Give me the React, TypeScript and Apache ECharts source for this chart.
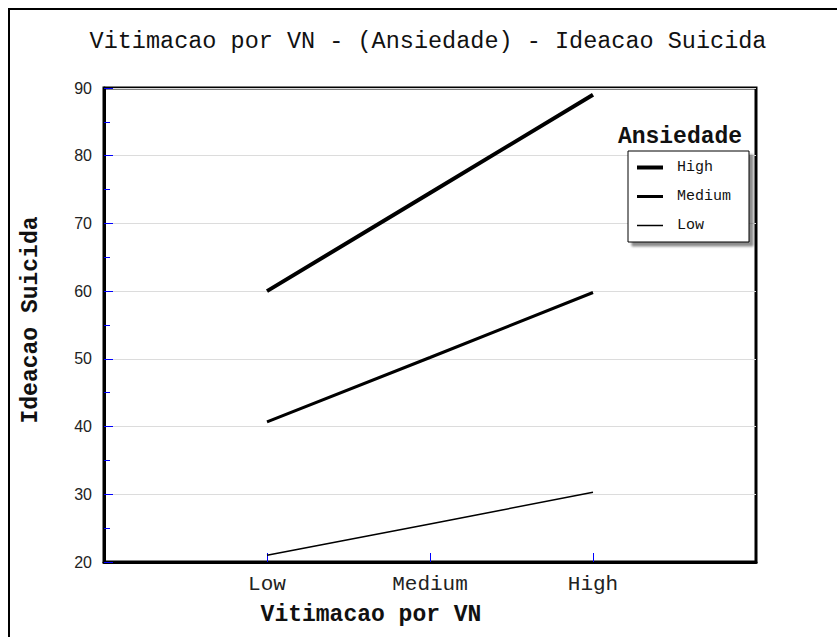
import React, { useEffect, useRef } from "react";
import * as echarts from "echarts";

const chartTitle = "Vitimacao por VN - (Ansiedade) - Ideacao Suicida";
const xTitle = "Vitimacao por VN";
const yTitle = "Ideacao Suicida";
const legendTitle = "Ansiedade";
const categories = ["Low", "Medium", "High"];
const seriesNames = ["High", "Medium", "Low"];
const highValues = [60, 74.5, 89];
const mediumValues = [40.7, 50.2, 59.8];
const lowValues = [21, 25.6, 30.3];
const lineWidths = [4, 3, 1.5];
const yMin = 20;
const yMax = 90;
const yStep = 10;

const MONO = "'Liberation Mono', 'DejaVu Sans Mono', monospace";
const SANS = "'Liberation Sans', Arial, sans-serif";

export default function App() {
  const ref = useRef<HTMLDivElement>(null);
  useEffect(() => {
    if (!ref.current) return;
    const chart = echarts.init(ref.current, null, { renderer: "svg" });
    const xData = ["", ...categories, ""];
    const pad = (v: number[]) => ["-", ...v, "-"];
    const allValues = [highValues, mediumValues, lowValues];
    chart.setOption({
      animation: false,
      backgroundColor: "#fff",
      grid: {
        left: 104,
        top: 88,
        right: 81,
        bottom: 75,
        show: true,
        borderColor: "#000",
        borderWidth: 3,
        backgroundColor: "transparent",
      },
      xAxis: {
        type: "category",
        data: xData,
        boundaryGap: false,
        axisLine: { show: true, lineStyle: { color: "#000", width: 3 } },
        axisTick: {
          show: true,
          inside: true,
          length: 9,
          interval: (i: number) => i >= 1 && i <= categories.length,
          lineStyle: { color: "#0000ff", width: 1 },
        },
        axisLabel: {
          interval: 0,
          margin: 12,
          fontFamily: MONO,
          fontSize: 21,
          color: "#222",
        },
        splitLine: { show: false },
      },
      yAxis: {
        type: "value",
        min: yMin,
        max: yMax,
        interval: yStep,
        axisLine: { show: true, lineStyle: { color: "#000", width: 3 } },
        axisTick: {
          show: true,
          inside: true,
          length: 9,
          lineStyle: { color: "#0000ff", width: 1 },
        },
        minorTick: {
          show: true,
          splitNumber: 2,
          length: 6,
          lineStyle: { color: "#0000ff", width: 1 },
        },
        axisLabel: {
          margin: 12,
          fontFamily: SANS,
          fontSize: 16,
          color: "#222",
        },
        splitLine: { show: true, lineStyle: { color: "#dcdcdc", width: 1 } },
      },
      legend: {
        orient: "vertical",
        left: 628,
        top: 151,
        padding: [9, 18, 9, 7],
        itemWidth: 26,
        itemHeight: 14,
        itemGap: 14,
        selectedMode: false,
        backgroundColor: "#fff",
        borderColor: "#000",
        borderWidth: 1,
        shadowColor: "rgba(0,0,0,0.45)",
        shadowOffsetX: 4,
        shadowOffsetY: 4,
        shadowBlur: 2,
        lineStyle: { width: "inherit", color: "#000" },
        itemStyle: {
          color: "rgba(0,0,0,0)",
          borderColor: "rgba(0,0,0,0)",
          borderWidth: 0,
        },
        textStyle: {
          fontFamily: MONO,
          fontSize: 15,
          color: "#111",
          padding: [0, 0, 0, 9],
        },
        data: seriesNames,
      },
      graphic: [
        {
          type: "rect",
          silent: true,
          z: 100,
          shape: { x: 9, y: 9, width: 900, height: 700 },
          style: { fill: "none", stroke: "#000", lineWidth: 2 },
        },
        {
          type: "text",
          x: 428,
          y: 41,
          style: {
            text: chartTitle,
            fontFamily: MONO,
            fontSize: 23.5,
            fill: "#111",
            textAlign: "center",
            textVerticalAlign: "middle",
            verticalAlign: "middle",
          },
        },
        {
          type: "text",
          x: 371,
          y: 615,
          style: {
            text: xTitle,
            fontFamily: MONO,
            fontWeight: "bold",
            fontSize: 23,
            fill: "#111",
            textAlign: "center",
            textVerticalAlign: "middle",
            verticalAlign: "middle",
          },
        },
        {
          type: "text",
          x: 31,
          y: 320,
          rotation: Math.PI / 2,
          style: {
            text: yTitle,
            fontFamily: MONO,
            fontWeight: "bold",
            fontSize: 23,
            fill: "#111",
            textAlign: "center",
            textVerticalAlign: "middle",
            verticalAlign: "middle",
          },
        },
        {
          type: "text",
          x: 680,
          y: 137,
          style: {
            text: legendTitle,
            fontFamily: MONO,
            fontWeight: "bold",
            fontSize: 23,
            fill: "#111",
            textAlign: "center",
            textVerticalAlign: "middle",
            verticalAlign: "middle",
          },
        },
      ],
      series: seriesNames.map((name, i) => ({
        name,
        type: "line",
        data: pad(allValues[i]),
        symbol: "none",
        connectNulls: false,
        lineStyle: { color: "#000", width: lineWidths[i] },
        itemStyle: { color: "#000" },
      })),
    });
    return () => chart.dispose();
  }, []);
  return (
    <div
      ref={ref}
      style={{
        position: "fixed",
        left: 0,
        top: 0,
        width: 837,
        height: 637,
        background: "#fff",
      }}
    />
  );
}
